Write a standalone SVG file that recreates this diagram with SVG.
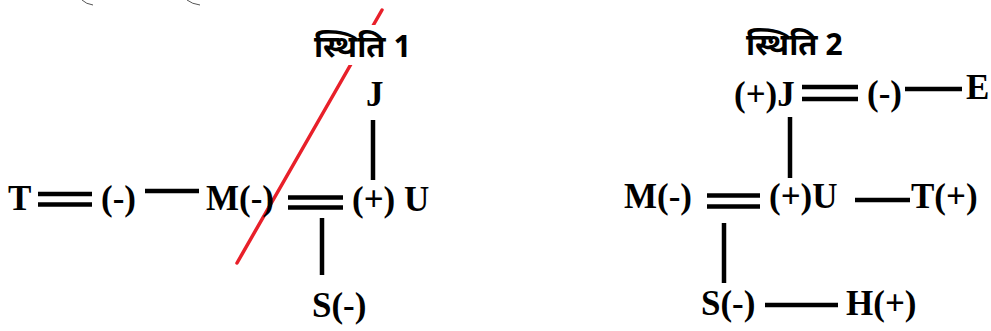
<svg xmlns="http://www.w3.org/2000/svg" width="991" height="331" viewBox="0 0 991 331">
<style>
.t{font-family:"Liberation Serif","Times New Roman",serif;font-weight:bold;font-size:35px;fill:#000}
.h{font-family:"Noto Sans Devanagari","Noto Sans","Lohit Devanagari",sans-serif;font-weight:bold;font-size:31px;fill:#000}
.c{stroke:#000;stroke-width:4.5;fill:none}
.faint{stroke:#555;stroke-width:1;fill:none}
</style>
<rect width="991" height="331" fill="#fff"/>
<g id="artifacts">
<path class="faint" d="M82,0 Q86,4 93,5"/>
<path class="faint" d="M187,0 Q192,4 200,5"/>
</g>
<g id="cross-out">
<line x1="237" y1="263" x2="382" y2="10" stroke="#e8202a" stroke-width="3.5" stroke-linecap="round"/>
</g>
<g id="connectors">
<line class="c" x1="38" y1="194" x2="92" y2="194"/>
<line class="c" x1="38" y1="204.5" x2="92" y2="204.5"/>
<line class="c" x1="145" y1="191" x2="199" y2="191"/>
<line class="c" x1="288" y1="197.5" x2="343" y2="197.5"/>
<line class="c" x1="288" y1="207.5" x2="343" y2="207.5"/>
<line class="c" x1="373" y1="120" x2="373" y2="180"/>
<line class="c" x1="322" y1="218" x2="322" y2="275"/>
<line class="c" x1="802" y1="87" x2="858" y2="87"/>
<line class="c" x1="802" y1="99" x2="858" y2="99"/>
<line class="c" x1="905" y1="89" x2="962" y2="89"/>
<line class="c" x1="790" y1="117" x2="790" y2="178"/>
<line class="c" x1="707" y1="195.5" x2="760" y2="195.5"/>
<line class="c" x1="707" y1="206.5" x2="760" y2="206.5"/>
<line class="c" x1="855" y1="200" x2="910" y2="200"/>
<line class="c" x1="724" y1="223" x2="724" y2="283"/>
<line class="c" x1="765" y1="305" x2="838" y2="305"/>
</g>
<g id="title1"><rect x="312" y="25" width="100" height="40" fill="#fff"/><text class="h" x="314" y="57">स्थिति 1</text></g>
<g id="s1-T"><text class="t" x="8" y="210">T</text></g>
<g id="s1-neg"><text class="t" x="101" y="210">(-)</text></g>
<g id="s1-M"><text class="t" x="206" y="210">M(-)</text></g>
<g id="s1-U"><text class="t" x="352" y="211">(+) U</text></g>
<g id="s1-J"><text class="t" x="366" y="106">J</text></g>
<g id="s1-S"><text class="t" x="312" y="317">S(-)</text></g>
<g id="title2"><text class="h" x="746" y="55">स्थिति 2</text></g>
<g id="s2-J"><text class="t" x="734" y="106">(+)J</text></g>
<g id="s2-neg"><text class="t" x="867" y="105">(-)</text></g>
<g id="s2-E"><text class="t" x="966" y="99" font-size="33">E</text></g>
<g id="s2-M"><text class="t" x="624" y="208">M(-)</text></g>
<g id="s2-U"><text class="t" x="769" y="208">(+)U</text></g>
<g id="s2-T"><text class="t" x="911" y="208">T(+)</text></g>
<g id="s2-S"><text class="t" x="701" y="315">S(-)</text></g>
<g id="s2-H"><text class="t" x="846" y="315">H(+)</text></g>
</svg>
